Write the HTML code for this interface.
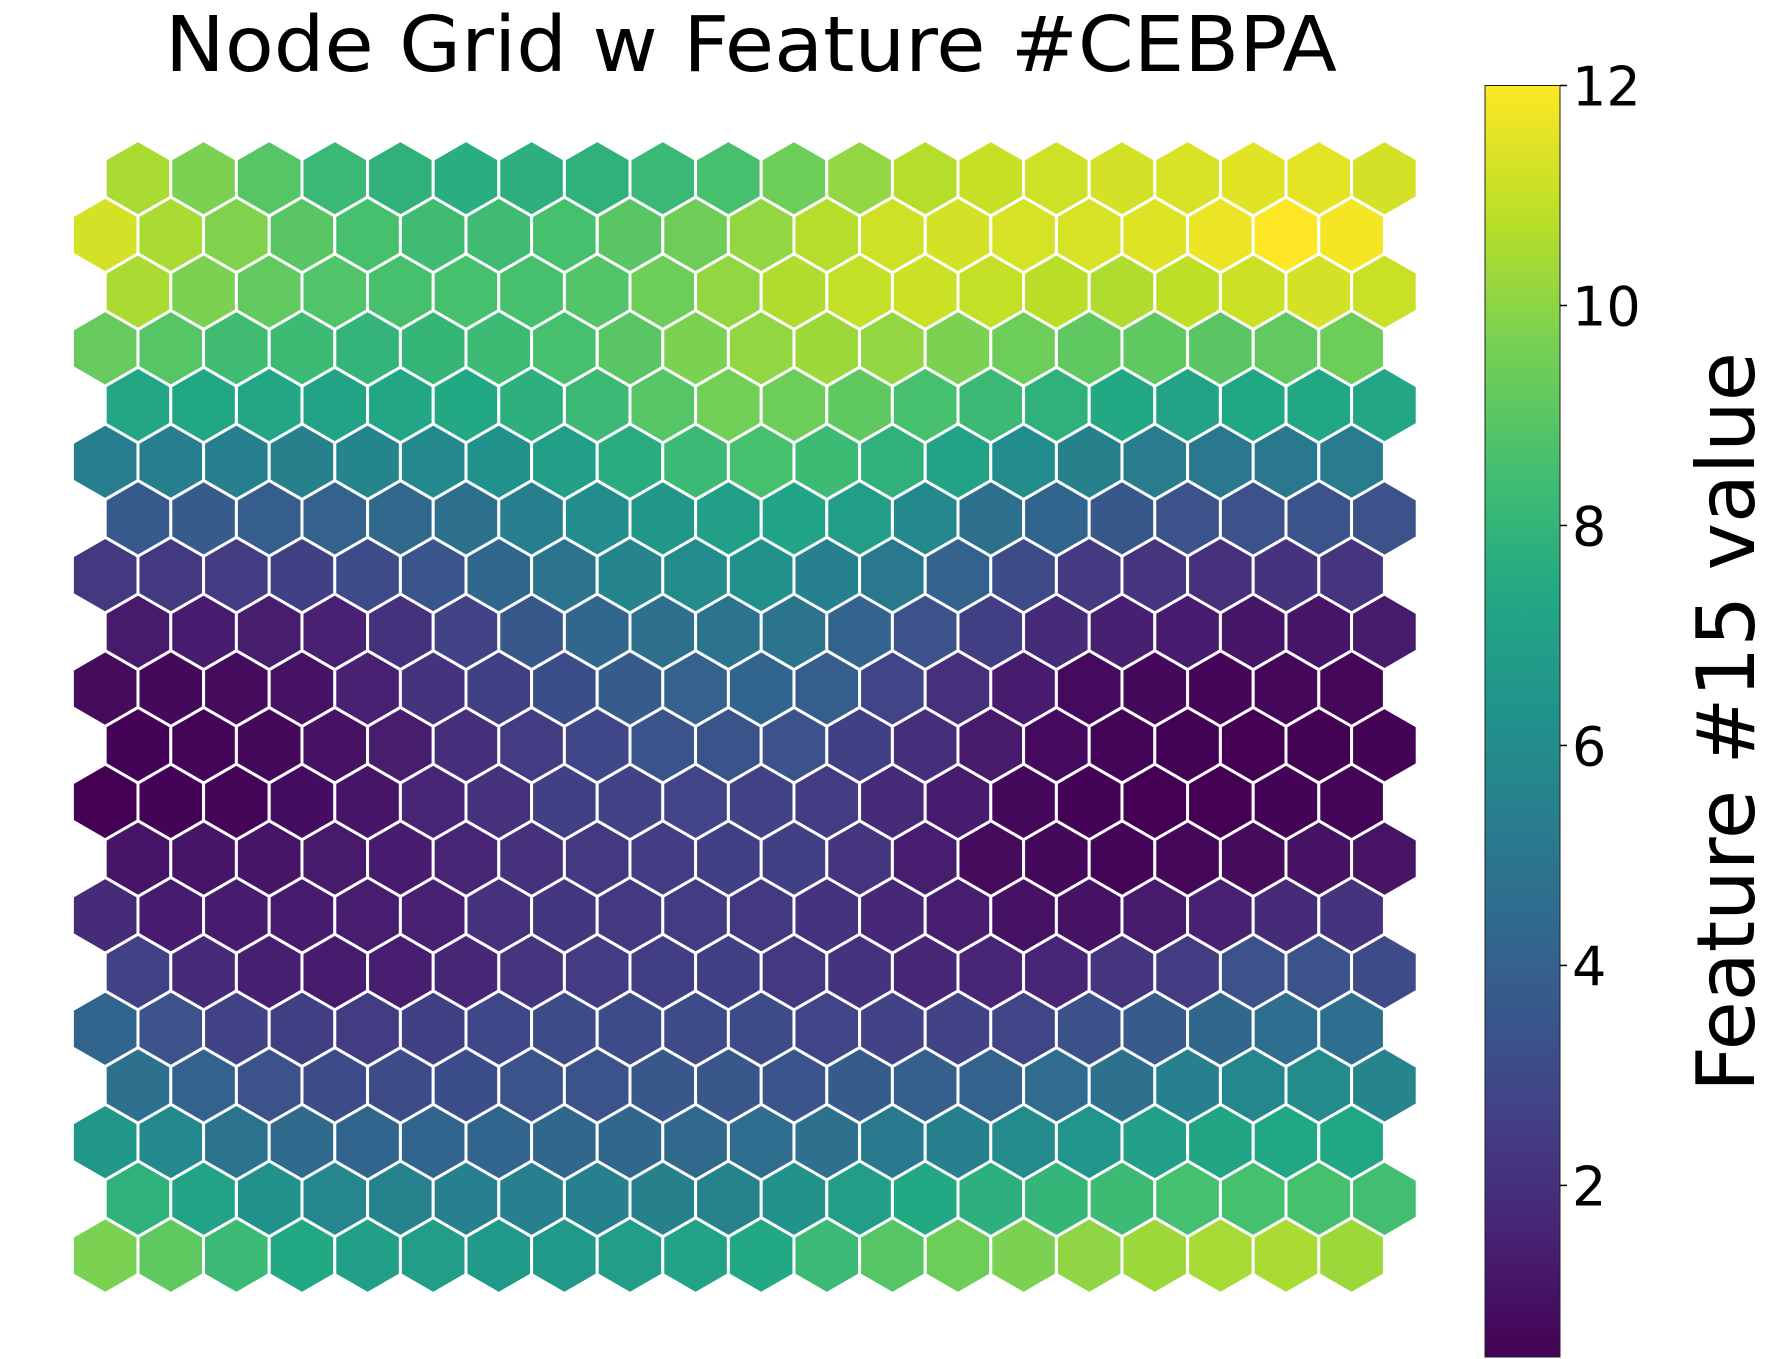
<!DOCTYPE html>
<html><head><meta charset="utf-8"><style>
html,body{margin:0;padding:0;background:#fff;}
svg{display:block;font-family:"DejaVu Sans","Liberation Sans",sans-serif;}
</style></head><body>
<svg id="chart" width="1775" height="1359" viewBox="0 0 1775 1359" xmlns="http://www.w3.org/2000/svg">
<defs>
<linearGradient id="vir" x1="0" y1="1" x2="0" y2="0">
<stop offset="0" stop-color="#440154"/><stop offset="0.1" stop-color="#482475"/><stop offset="0.2" stop-color="#414487"/><stop offset="0.3" stop-color="#355f8d"/><stop offset="0.4" stop-color="#2a788e"/><stop offset="0.5" stop-color="#21918c"/><stop offset="0.6" stop-color="#22a884"/><stop offset="0.7" stop-color="#44bf70"/><stop offset="0.8" stop-color="#7ad151"/><stop offset="0.9" stop-color="#bddf26"/><stop offset="1" stop-color="#fde725"/>
</linearGradient>
</defs>
<text x="751" y="71" font-size="77" text-anchor="middle" textLength="1172" lengthAdjust="spacingAndGlyphs" fill="#000">Node Grid w Feature #CEBPA</text>
<g id="hexes"></g>
<g id="cbar"></g>
<text transform="translate(1754,722) rotate(-90)" font-size="80" text-anchor="middle" textLength="740" lengthAdjust="spacingAndGlyphs" fill="#000">Feature #15 value</text>
</svg>
<script>
const rowValues = [
[10.5,9.7,8.9,8.2,7.85,7.65,7.75,7.85,8.2,8.6,9.4,10.1,10.7,11.0,11.15,11.25,11.35,11.5,11.55,11.25],
[11.25,10.5,9.8,9.0,8.6,8.4,8.35,8.6,9.0,9.45,10.1,10.7,11.15,11.25,11.3,11.3,11.45,11.7,12.0,11.85],
[10.5,9.7,9.15,8.8,8.6,8.6,8.6,8.85,9.4,10.1,10.6,10.95,11.1,10.95,10.8,10.6,10.85,11.1,11.25,11.05],
[9.25,8.9,8.4,8.3,8.0,8.05,8.3,8.6,9.0,9.7,10.1,10.3,10.1,9.7,9.4,9.1,9.1,9.0,9.15,9.4],
[7.3,7.35,7.3,7.1,7.3,7.4,7.75,8.25,8.9,9.5,9.4,9.1,8.6,8.25,7.85,7.4,7.1,7.35,7.35,7.3],
[5.3,5.4,5.4,5.5,5.65,5.85,6.2,6.9,7.6,8.25,8.6,8.3,7.85,7.1,6.05,5.5,5.2,5.05,5.05,5.2],
[3.7,3.75,3.85,4.05,4.35,4.7,5.4,6.0,6.5,6.9,7.15,6.8,5.85,4.7,4.2,3.6,3.33,3.33,3.4,3.33],
[2.35,2.35,2.45,2.6,3.05,3.5,4.3,4.9,5.6,5.95,6.2,5.45,5.06,4.1,3.1,2.4,2.2,2.0,2.15,2.2],
[1.25,1.3,1.35,1.5,2.1,2.7,3.6,4.3,4.65,4.85,4.85,4.15,3.33,2.55,1.85,1.45,1.3,1.15,1.1,1.25],
[0.8,0.7,0.8,1.0,1.5,2.15,2.6,3.2,3.8,4.05,4.2,3.85,2.75,2.0,1.3,0.75,0.7,0.6,0.65,0.65],
[0.5,0.55,0.7,1.0,1.35,1.95,2.45,2.9,3.4,3.4,3.33,2.6,1.95,1.25,0.75,0.55,0.48,0.44,0.48,0.5],
[0.44,0.5,0.55,0.85,1.1,1.65,2.05,2.6,2.7,2.8,2.7,2.45,1.85,1.3,0.7,0.5,0.44,0.44,0.5,0.55],
[1.1,1.1,1.1,1.25,1.3,1.6,2.05,2.35,2.5,2.6,2.6,2.2,1.4,0.8,0.7,0.55,0.65,0.8,1.0,1.05],
[1.85,1.3,1.3,1.3,1.4,1.5,2.05,2.25,2.35,2.45,2.35,2.15,1.7,1.4,1.0,1.0,1.25,1.5,1.85,2.15],
[2.65,1.85,1.45,1.3,1.4,1.75,2.2,2.45,2.55,2.6,2.35,2.15,1.75,1.65,1.65,2.2,2.45,3.33,3.33,3.05],
[4.2,3.33,2.7,2.55,2.45,2.6,2.9,3.05,3.05,3.05,3.05,2.75,2.7,2.7,2.8,3.3,3.75,4.3,4.6,4.6],
[4.75,4.1,3.33,3.1,3.05,3.2,3.4,3.4,3.55,3.55,3.5,3.8,3.9,4.1,4.5,4.75,5.45,5.75,5.95,5.6],
[6.5,5.85,4.9,4.45,4.2,4.2,4.2,4.3,4.3,4.35,4.55,4.75,5.15,5.45,5.95,6.35,6.9,7.25,7.35,7.35],
[7.85,7.1,6.2,5.7,5.55,5.45,5.45,5.45,5.5,5.55,6.3,6.8,7.4,7.75,8.05,8.3,8.55,8.6,8.6,8.5],
[9.7,9.1,8.25,7.4,6.9,6.85,6.6,6.6,6.8,7.1,7.4,8.25,8.9,9.4,9.7,10.05,10.3,10.45,10.5,10.3]
];
const tickValues = [2,4,6,8,10,12];
const tickLabels = ["2","4","6","8","10","12"];
const vMin = 0.44, vMax = 12.0;

const NS = "http://www.w3.org/2000/svg";
const vir = ["#440154","#482475","#414487","#355f8d","#2a788e","#21918c","#22a884","#44bf70","#7ad151","#bddf26","#fde725"];
function hex2rgb(h){return [1,3,5].map(i=>parseInt(h.substr(i,2),16));}
function color(v){
  let t=(v-vMin)/(vMax-vMin); t=Math.max(0,Math.min(1,t));
  const p=t*10, i=Math.min(9,Math.floor(p)), f=p-i;
  const a=hex2rgb(vir[i]), b=hex2rgb(vir[i+1]);
  return "rgb("+a.map((x,k)=>Math.round(x+(b[k]-x)*f)).join(",")+")";
}
const R=37.9, dx=65.6, dy=56.7, x0=138, y0=178.3;
function cx(r,c){return (r%2===0?x0:x0-dx/2)+dx*c;}
function cy(r){return y0+dy*r;}
const g=document.getElementById("hexes");
rowValues.forEach((row,r)=>{
  row.forEach((v,c)=>{
    const X=cx(r,c), Y=cy(r);
    const pts=[];
    for(let k=0;k<6;k++){const a=Math.PI/180*(60*k-90);pts.push((X+R*Math.cos(a)).toFixed(2)+","+(Y+R*Math.sin(a)).toFixed(2));}
    const p=document.createElementNS(NS,"polygon");
    p.setAttribute("points",pts.join(" "));
    p.setAttribute("fill",color(v));
    p.setAttribute("stroke","#fff");
    p.setAttribute("stroke-width","3");
    
    
    g.appendChild(p);
  });
});
const cbX=1485, cbW=75, cbTop=85.5, cbBot=1357;
function cbY(v){return cbBot-(v-vMin)/(vMax-vMin)*(cbBot-cbTop);}
const cb=document.getElementById("cbar");
const rect=document.createElementNS(NS,"rect");
rect.setAttribute("x",cbX);rect.setAttribute("y",cbTop);rect.setAttribute("width",cbW);rect.setAttribute("height",cbBot-cbTop);
rect.setAttribute("fill","url(#vir)");rect.setAttribute("stroke","#222");rect.setAttribute("stroke-width","1");


cb.appendChild(rect);
tickValues.forEach((v,i)=>{
  const y=cbY(v);
  const ln=document.createElementNS(NS,"line");
  ln.setAttribute("x1",cbX+cbW);ln.setAttribute("x2",cbX+cbW+7);ln.setAttribute("y1",y);ln.setAttribute("y2",y);
  ln.setAttribute("stroke","#000");ln.setAttribute("stroke-width","1.5");
  
  
  cb.appendChild(ln);
  const t=document.createElementNS(NS,"text");
  t.setAttribute("x",cbX+cbW+12);t.setAttribute("y",y+20);t.setAttribute("font-size","54");t.setAttribute("fill","#000");
  t.textContent=tickLabels[i];
  
  
  cb.appendChild(t);
});
</script>
</body></html>
